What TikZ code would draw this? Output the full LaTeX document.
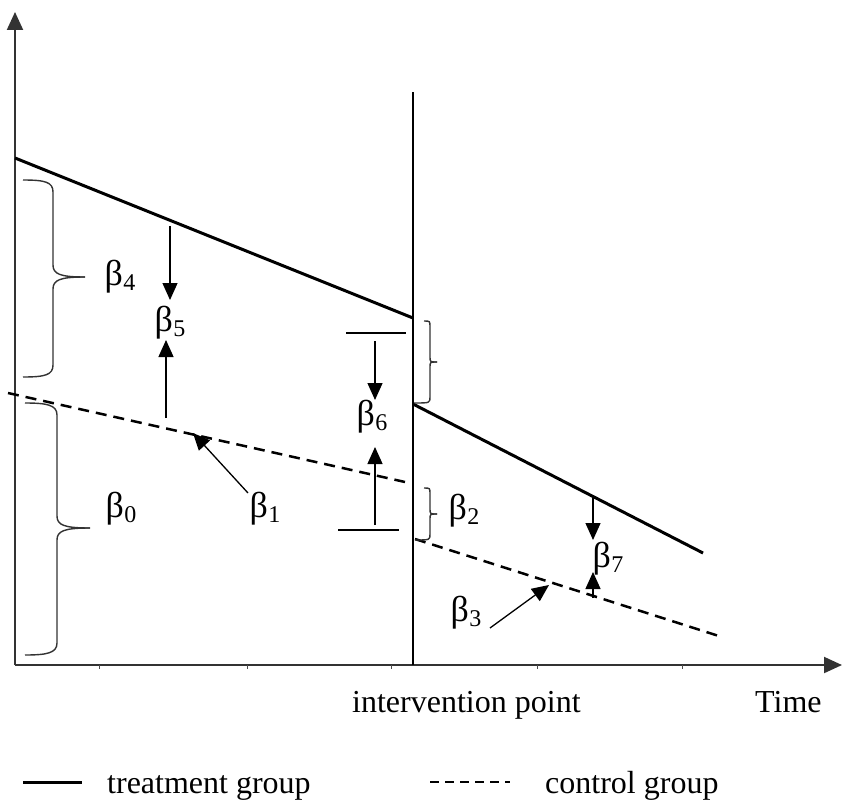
\documentclass[tikz,border=0pt]{standalone}
\usepackage{fontspec}
\setmainfont{Liberation Serif}
\usetikzlibrary{arrows.meta}
\newcommand{\bsub}[1]{{\fontsize{36}{40}\selectfont β}\kern0.3pt\raisebox{-5pt}{\fontsize{24}{24}\selectfont #1}}
\begin{document}
\begin{tikzpicture}[x=1pt,y=-1pt,
  axis/.style={line width=2pt,draw=black!80,-{Triangle[length=18pt,width=16pt]}},
  treat/.style={line width=3pt},
  ctrl/.style={line width=2.5pt,dash pattern=on 11pt off 7pt},
  marker/.style={line width=1.3pt,-{Triangle[length=17pt,width=15pt]}},
  brace/.style={line width=1.4pt,draw=black!80},
  lbl/.style={inner sep=0pt,font=\fontsize{32}{38}\selectfont},
  txt/.style={inner sep=0pt,font=\fontsize{32}{38}\selectfont,anchor=base west}]
\useasboundingbox (0,0) rectangle (850,808);
\fill[white] (0,0) rectangle (850,808);
% axes
\coordinate (O) at (15,665);
\coordinate (ytop) at (15,12);
\coordinate (xend) at (842,665);
\draw[axis] (O) -- (ytop);
\draw[axis] (O) -- (xend);
\foreach \x in {99,247,391,537,682} \draw[line width=1pt,black!70] (\x,665) -- (\x,669);
% intervention line
\coordinate (vtop) at (413,92);
\coordinate (vbot) at (413,665);
\draw[line width=1.5pt] (vtop) -- (vbot);
% treatment
\coordinate (t1) at (15,158);
\coordinate (t2) at (413,318);
\coordinate (t3) at (413,404);
\coordinate (t4) at (703,553);
\draw[treat] (t1) -- (t2);
\draw[treat] (t3) -- (t4);
% control
\coordinate (c1) at (8,393);
\coordinate (c2) at (405,482);
\coordinate (c3) at (415,539);
\coordinate (c4) at (722,637);
\draw[ctrl] (c1) -- (c2);
\draw[ctrl] (c3) -- (c4);
% braces
\draw[brace] (23,180) .. controls (45,180) and (53,182) .. (53,192) -- (53,265) .. controls (53,274) and (60,277) .. (85,277);
\draw[brace] (85,277) .. controls (60,277) and (53,280) .. (53,289) -- (53,365) .. controls (53,375) and (45,377) .. (23,377);
\draw[brace] (25,403) .. controls (47,403) and (57,405) .. (57,415) -- (57,516) .. controls (57,525) and (64,528) .. (90,528);
\draw[brace] (90,528) .. controls (64,528) and (57,531) .. (57,540) -- (57,643) .. controls (57,653) and (47,655) .. (25,655);
\draw[brace] (424,321) .. controls (430,321) .. (430,327) -- (430,357) .. controls (430,362) .. (437,362);
\draw[brace] (437,362) .. controls (430,362) .. (430,367) -- (430,397) .. controls (430,403) .. (414,403);
\draw[brace] (424,488) .. controls (430,488) .. (430,494) -- (430,509) .. controls (430,514) .. (437,514);
\draw[brace] (437,514) .. controls (430,514) .. (430,519) -- (430,534) .. controls (430,540) .. (415,540);
% beta6 bars
\coordinate (b6a) at (346,333); \coordinate (b6b) at (406,333);
\coordinate (b6c) at (338,530); \coordinate (b6d) at (399,530);
\draw[line width=1.4pt] (b6a) -- (b6b);
\draw[line width=1.4pt] (b6c) -- (b6d);
% marker arrows
\coordinate (a5s) at (170,226); \coordinate (a5e) at (170,300);
\coordinate (u5s) at (166,418); \coordinate (u5e) at (166,340);
\coordinate (a6s) at (375,341); \coordinate (a6e) at (375,400);
\coordinate (u6s) at (375,525); \coordinate (u6e) at (375,447);
\coordinate (a1s) at (248,493); \coordinate (a1e) at (193,433);
\coordinate (a7s) at (593,498); \coordinate (a7e) at (593,540);
\coordinate (u7s) at (593,598); \coordinate (u7e) at (593,572);
\coordinate (a3s) at (490,628); \coordinate (a3e) at (549,585);
\draw[marker] (a5s) -- (a5e);
\draw[marker] (u5s) -- (u5e);
\draw[marker] (a6s) -- (a6e);
\draw[marker] (u6s) -- (u6e);
\draw[marker] (a1s) -- (a1e);
\draw[marker] (a7s) -- (a7e);
\draw[marker] (u7s) -- (u7e);
\draw[marker] (a3s) -- (a3e);
% labels
\node[lbl] (B4) at (120,277) {\bsub{4}};
\node[lbl] (B5) at (170,323) {\bsub{5}};
\node[lbl] (B0) at (121,509) {\bsub{0}};
\node[lbl] (B1) at (265,509) {\bsub{1}};
\node[lbl] (B6) at (372,417) {\bsub{6}};
\node[lbl] (B2) at (464,511) {\bsub{2}};
\node[lbl] (B7) at (608,559) {\bsub{7}};
\node[lbl] (B3) at (466,613) {\bsub{3}};
% axis texts
\node[txt] (ip) at (352,712) {intervention point};
\node[txt] (time) at (755,712) {Time};
% legend
\coordinate (l1a) at (23,782); \coordinate (l1b) at (82,782);
\coordinate (l2a) at (430,782); \coordinate (l2b) at (510,782);
\draw[treat] (l1a) -- (l1b);
\draw[line width=1.8pt,dash pattern=on 9pt off 6pt] (l2a) -- (l2b);
\node[txt] (tg) at (107,793) {treatment group};
\node[txt] (cg) at (545,793) {control group};
\end{tikzpicture}
\end{document}
